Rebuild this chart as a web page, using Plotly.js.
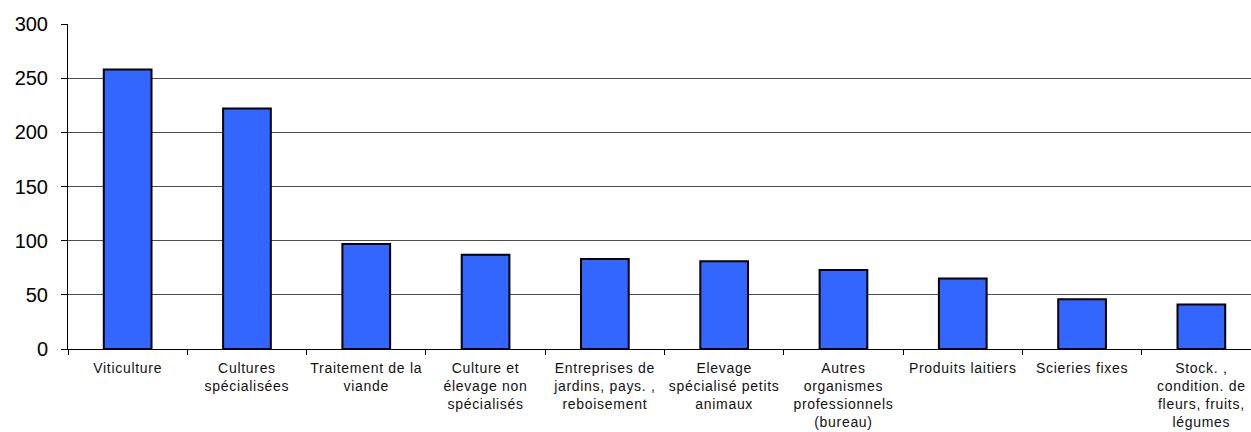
<!DOCTYPE html>
<html>
<head>
<meta charset="utf-8">
<script src="https://cdn.plot.ly/plotly-3.0.1.min.js"></script>
<style>
html,body{margin:0;padding:0;background:#fff;}
#chart{width:1251px;height:432px;}
#chart .xtick text{letter-spacing:0.7px;}
</style>
</head>
<body>
<div id="chart"></div>
<script>
var categories = [
  "Viticulture",
  "Cultures<br>spécialisées",
  "Traitement de la<br>viande",
  "Culture et<br>élevage non<br>spécialisés",
  "Entreprises de<br>jardins, pays. ,<br>reboisement",
  "Elevage<br>spécialisé petits<br>animaux",
  "Autres<br>organismes<br>professionnels<br>(bureau)",
  "Produits laitiers",
  "Scieries fixes",
  "Stock. ,<br>condition. de<br>fleurs, fruits,<br>légumes"
];
var values = [258, 222, 97, 87, 83, 81, 73, 65, 46, 41];
var yTicks = [0, 50, 100, 150, 200, 250, 300];

var trace = {
  type: "bar",
  x: categories,
  y: values,
  width: 0.4,
  marker: {color: "#3366FF", line: {color: "#000000", width: 2}},
  hoverinfo: "none"
};

var layout = {
  width: 1251,
  height: 432,
  margin: {l: 68, r: 0, t: 24, b: 83, pad: 0},
  paper_bgcolor: "#ffffff",
  plot_bgcolor: "#ffffff",
  showlegend: false,
  bargap: 0.6,
  xaxis: {
    type: "category",
    range: [-0.5, 9.416],
    showline: true,
    linecolor: "#000000",
    linewidth: 1,
    ticks: "outside",
    tickson: "boundaries",
    ticklen: 5,
    tickcolor: "#000000",
    showgrid: false,
    tickangle: 0,
    ticklabelstandoff: 6,
    tickfont: {family: "Liberation Sans, Arial, sans-serif", size: 14, color: "#111111"},
    fixedrange: true
  },
  yaxis: {
    range: [0, 300],
    tickvals: yTicks,
    ticktext: yTicks.map(String),
    showline: true,
    linecolor: "#000000",
    linewidth: 1,
    ticks: "outside",
    ticklen: 6,
    tickcolor: "#000000",
    showgrid: true,
    gridcolor: "#4d4d4d",
    gridwidth: 1,
    zeroline: false,
    ticklabelstandoff: 9,
    tickfont: {family: "Liberation Sans, Arial, sans-serif", size: 20, color: "#000000"},
    fixedrange: true
  }
};

Plotly.newPlot("chart", [trace], layout, {displayModeBar: false, staticPlot: true});
</script>
</body>
</html>
